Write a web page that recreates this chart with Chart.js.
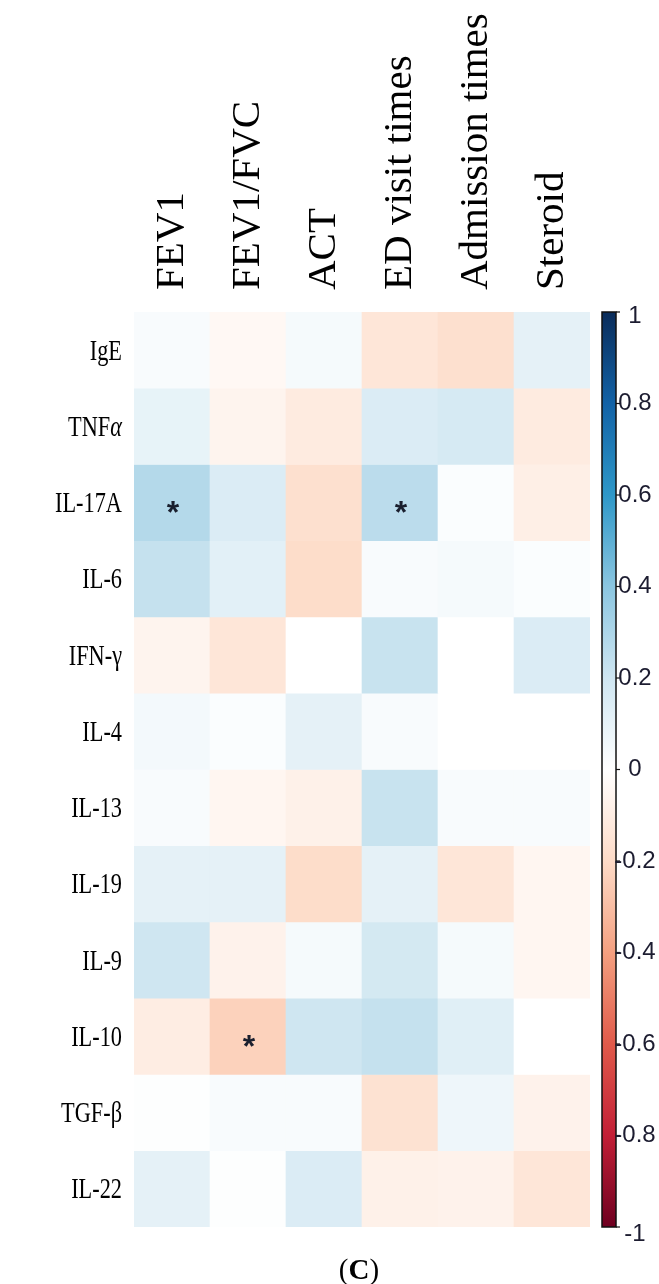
<!DOCTYPE html>
<html><head><meta charset="utf-8">
<script src="https://cdn.jsdelivr.net/npm/chart.js@4/dist/chart.umd.min.js"></script>
<style>html,body{margin:0;padding:0;background:#fff;}#wrap{width:659px;height:1284px;position:relative;}</style>
</head><body><div id="wrap"><canvas id="c" width="659" height="1284"></canvas></div>
<script>
// ---- data ----
const columns = ['FEV1', 'FEV1/FVC', 'ACT', 'ED visit times', 'Admission times', 'Steroid'];
const rows = ['IgE', 'TNFα', 'IL-17A', 'IL-6', 'IFN-γ', 'IL-4', 'IL-13', 'IL-19', 'IL-9', 'IL-10', 'TGF-β', 'IL-22'];
const fev1       = [0.03, 0.10, 0.28, 0.23, -0.06, 0.05, 0.03, 0.11, 0.20, -0.10, 0.01, 0.11];
const fev1Fvc    = [-0.04, -0.06, 0.15, 0.12, -0.14, 0.02, -0.05, 0.11, -0.07, -0.23, 0.03, 0.01];
const act        = [0.04, -0.11, -0.17, -0.19, 0.00, 0.11, -0.08, -0.19, 0.04, 0.20, 0.03, 0.15];
const edVisits   = [-0.14, 0.15, 0.26, 0.03, 0.22, 0.03, 0.22, 0.11, 0.18, 0.23, -0.16, -0.08];
const admissions = [-0.17, 0.17, 0.02, 0.04, 0.00, 0.00, 0.03, -0.14, 0.04, 0.13, 0.07, -0.07];
const steroid    = [0.11, -0.11, -0.09, 0.02, 0.15, 0.00, 0.03, -0.05, -0.05, 0.00, -0.07, -0.14];
const sigRows = ['IL-17A', 'IL-17A', 'IL-10'];
const sigCols = ['FEV1', 'ED visit times', 'FEV1/FVC'];
const colorbarTicks = [1, 0.8, 0.6, 0.4, 0.2, 0, -0.2, -0.4, -0.6, -0.8, -1];
const colorbarLabels = ['1', '0.8', '0.6', '0.4', '0.2', '0', '-0.2', '-0.4', '-0.6', '-0.8', '-1'];
const caption = 'C';

// ---- colour scale ----
const stops = [
  [-1, '#6E0020'], [-0.8, '#C21F36'], [-0.6, '#E05A4A'], [-0.4, '#F4A080'], [-0.2, '#FDDBC7'],
  [0, '#FFFFFF'], [0.2, '#CFE6F1'], [0.4, '#8BC6E0'], [0.6, '#2E98C8'], [0.8, '#1262A6'], [1, '#0A2C5A']
];
function hex2rgb(h){return [parseInt(h.slice(1,3),16),parseInt(h.slice(3,5),16),parseInt(h.slice(5,7),16)];}
function colorFor(v){
  v = Math.max(-1, Math.min(1, v));
  for (let k = 0; k < stops.length - 1; k++) {
    const [a, ca] = stops[k], [b, cb] = stops[k+1];
    if (v >= a && v <= b) {
      const t = (v - a) / (b - a), A = hex2rgb(ca), B = hex2rgb(cb);
      const c = A.map((x, i) => Math.round(x + (B[i] - x) * t));
      return `rgb(${c[0]},${c[1]},${c[2]})`;
    }
  }
  return '#fff';
}

const colValues = [fev1, fev1Fvc, act, edVisits, admissions, steroid];

const datasets = rows.map((r, i) => ({
  label: r,
  data: columns.map(() => [i, i + 1]),
  backgroundColor: columns.map((c, j) => colorFor(colValues[j][i])),
  borderWidth: 0,
  grouped: false,
  barPercentage: 1,
  categoryPercentage: 1
}));

const rowLabelParts = {
  'TNFα': [['TNF', ''], ['α', 'italic ']]
};

const decorPlugin = {
  id: 'decor',
  afterDraw(chart) {
    const ctx = chart.ctx;
    const xs = chart.scales.x, ys = chart.scales.y, cbs = chart.scales.cb;
    const area = chart.chartArea;
    ctx.save();
    ctx.fillStyle = '#000';
    // column labels (rotated)
    ctx.font = '41px "Liberation Serif"';
    ctx.textAlign = 'left';
    ctx.textBaseline = 'alphabetic';
    columns.forEach((c, j) => {
      const cx = xs.getPixelForValue(j);
      ctx.save();
      ctx.translate(cx + 11, area.top - 22);
      ctx.rotate(-Math.PI / 2);
      ctx.fillText(c, 0, 0);
      ctx.restore();
    });
    // row labels
    const fs = 29, sx = 0.77;
    rows.forEach((r, i) => {
      const cy = (ys.getPixelForValue(i) + ys.getPixelForValue(i + 1)) / 2;
      const parts = rowLabelParts[r] || [[r, '']];
      ctx.save();
      ctx.translate(area.left - 12, cy + fs * 0.33);
      ctx.scale(sx, 1);
      let w = 0;
      parts.forEach(([t, st]) => { ctx.font = `${st}${fs}px "Liberation Serif"`; w += ctx.measureText(t).width; });
      let x = -w;
      ctx.textAlign = 'left';
      ctx.textBaseline = 'alphabetic';
      parts.forEach(([t, st]) => { ctx.font = `${st}${fs}px "Liberation Serif"`; ctx.fillText(t, x, 0); x += ctx.measureText(t).width; });
      ctx.restore();
    });
    // significance stars
    ctx.font = 'bold 32px "Liberation Sans"';
    ctx.textAlign = 'center';
    ctx.textBaseline = 'alphabetic';
    ctx.fillStyle = '#1a1f2e';
    sigRows.forEach((r, k) => {
      const i = rows.indexOf(r), j = columns.indexOf(sigCols[k]);
      const cx = xs.getPixelForValue(j);
      const cy = (ys.getPixelForValue(i) + ys.getPixelForValue(i + 1)) / 2;
      ctx.fillText('*', cx + 1, cy + 2 + 0.575 * 32);
    });
    // colour bar
    const bx = area.right + 12, bw = 14;
    const top = cbs.getPixelForValue(1), bot = cbs.getPixelForValue(-1);
    const g = ctx.createLinearGradient(0, bot, 0, top);
    stops.forEach(([v, c]) => g.addColorStop((v + 1) / 2, c));
    ctx.fillStyle = g;
    ctx.fillRect(bx, top, bw, bot - top);
    ctx.strokeStyle = '#111';
    ctx.lineWidth = 1.5;
    ctx.strokeRect(bx, top, bw, bot - top);
    ctx.lineWidth = 1.2;
    ctx.font = '24px "Liberation Sans"';
    ctx.fillStyle = '#1c1c30';
    ctx.textAlign = 'center';
    ctx.textBaseline = 'middle';
    colorbarTicks.forEach((v, k) => {
      const y = cbs.getPixelForValue(v);
      ctx.beginPath();
      ctx.moveTo(bx + bw, y);
      ctx.lineTo(bx + bw + 4, y);
      ctx.stroke();
      let ly = y;
      if (v === 1) ly = y + 4;
      if (v === -1) ly = y + 7;
      ctx.fillText(colorbarLabels[k], bx + bw + 19, ly);
    });
    // caption
    ctx.fillStyle = '#000';
    ctx.textAlign = 'left';
    ctx.textBaseline = 'alphabetic';
    const capY = 1279, capCx = (area.left + area.right) / 2 - 3;
    const cfs = 29;
    ctx.font = `${cfs}px "Liberation Serif"`;
    const wp = ctx.measureText('(').width;
    ctx.font = `bold ${cfs}px "Liberation Serif"`;
    const wc = ctx.measureText(caption).width;
    let x0 = capCx - (2 * wp + wc) / 2;
    ctx.font = `${cfs}px "Liberation Serif"`;
    ctx.fillText('(', x0, capY);
    ctx.font = `bold ${cfs}px "Liberation Serif"`;
    ctx.fillText(caption, x0 + wp, capY);
    ctx.font = `${cfs}px "Liberation Serif"`;
    ctx.fillText(')', x0 + wp + wc, capY);
    ctx.restore();
  }
};

const bgPlugin = {
  id: 'bg',
  beforeDraw(chart) {
    const ctx = chart.ctx;
    ctx.save(); ctx.fillStyle = '#fff'; ctx.fillRect(0, 0, chart.width, chart.height); ctx.restore();
  }
};

new Chart(document.getElementById('c'), {
  type: 'bar',
  data: { labels: columns, datasets },
  options: {
    responsive: false,
    animation: false,
    devicePixelRatio: 1,
    layout: { padding: { left: 134, right: 69, top: 312, bottom: 57 } },
    plugins: { legend: { display: false }, tooltip: { enabled: false } },
    scales: {
      x: { type: 'category', display: false, offset: true },
      y: { type: 'linear', min: 0, max: 12, reverse: true, display: false },
      cb: { type: 'linear', axis: 'y', min: -1, max: 1, display: false }
    }
  },
  plugins: [bgPlugin, decorPlugin]
});
</script></body></html>
